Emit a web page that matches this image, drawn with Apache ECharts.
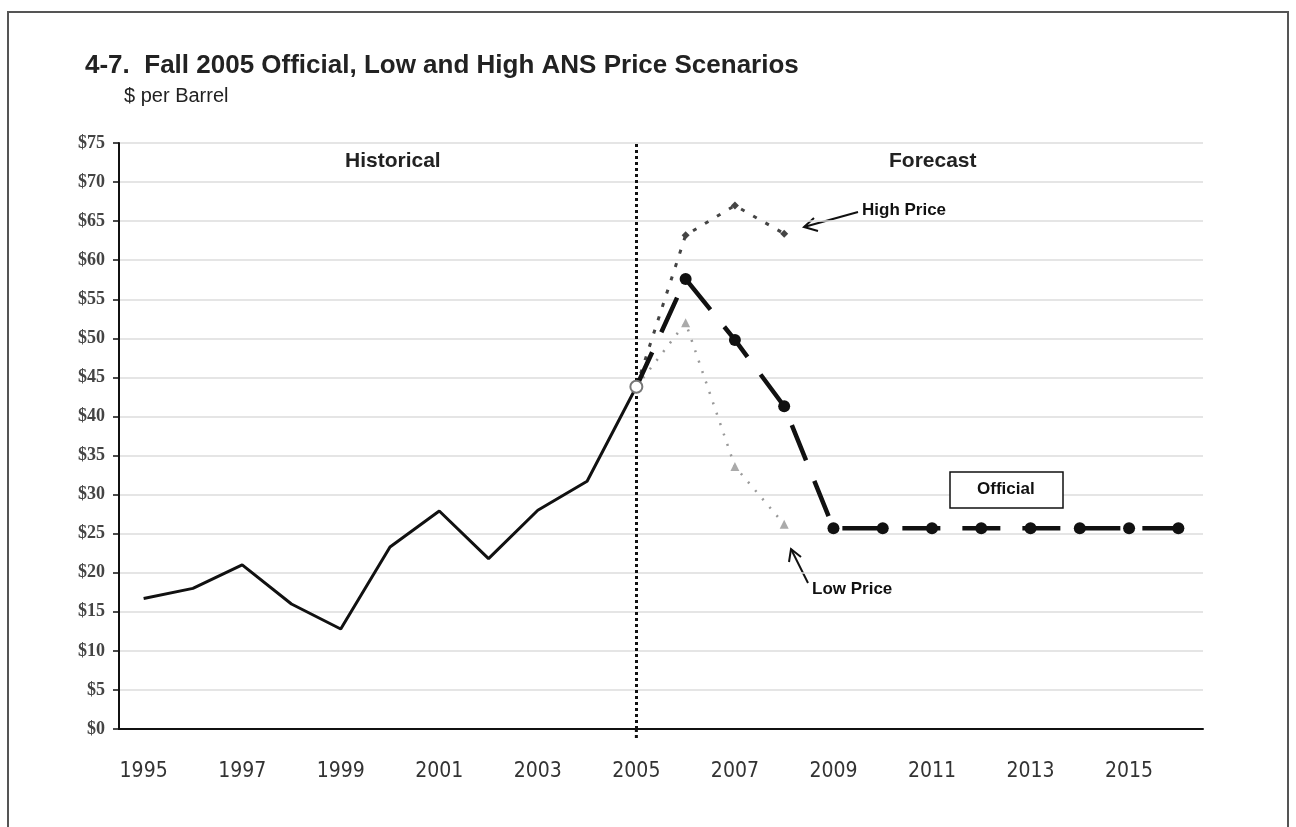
<!DOCTYPE html>
<html>
<head>
<meta charset="utf-8">
<script src="https://cdn.jsdelivr.net/npm/echarts@6/dist/echarts.min.js"></script>
<style>
  html, body { margin: 0; padding: 0; background: #fff; }
  #app { width: 1296px; height: 827px; }
</style>
</head>
<body>
<div id="app"></div>
<script>
// years on the x axis
var years = [];
for (var y = 1995; y <= 2016; y++) { years.push(String(y)); }

var historical = [16.7, 18.0, 21.0, 16.0, 12.8, 23.3, 27.9, 21.8, 28.0, 31.7, 43.8,
                  '-', '-', '-', '-', '-', '-', '-', '-', '-', '-', '-'];
var official   = ['-', '-', '-', '-', '-', '-', '-', '-', '-', '-', 43.8,
                  57.6, 49.8, 41.3, 25.7, 25.7, 25.7, 25.7, 25.7, 25.7, 25.7, 25.7];
var highPrice  = ['-', '-', '-', '-', '-', '-', '-', '-', '-', '-', 43.8,
                  63.2, 67.0, 63.4, '-', '-', '-', '-', '-', '-', '-', '-'];
var lowPrice   = ['-', '-', '-', '-', '-', '-', '-', '-', '-', '-', 43.8,
                  52.0, 33.6, 26.2, '-', '-', '-', '-', '-', '-', '-', '-'];

var myChart = echarts.init(document.getElementById('app'));

// first official point is drawn as a grey open circle
var officialData = official.map(function (v, i) {
    if (i === 10) {
        return { value: v, itemStyle: { color: '#fff', borderColor: '#777', borderWidth: 2 } };
    }
    return v;
});

var arrowStyle = { stroke: '#111', lineWidth: 2, fill: null };
var noteFont = 'bold 17px "Liberation Sans"';

var option = {
    animation: false,
    backgroundColor: '#fff',
    title: [
        {
            text: '4-7.  Fall 2005 Official, Low and High ANS Price Scenarios',
            left: 80,
            top: 48,
            textStyle: {
                fontFamily: 'Liberation Sans',
                fontWeight: 'bold',
                fontSize: 26,
                color: '#222'
            }
        },
        {
            text: '$ per Barrel',
            left: 119,
            top: 81,
            textStyle: {
                fontFamily: 'Liberation Sans',
                fontWeight: 'normal',
                fontSize: 20,
                color: '#222'
            }
        }
    ],
    grid: {
        left: 119,
        right: 93,
        top: 143,
        bottom: 98
    },
    xAxis: {
        type: 'category',
        data: years,
        boundaryGap: true,
        axisLine: { lineStyle: { color: '#111', width: 2 } },
        axisTick: { interval: 0, length: 8, lineStyle: { color: '#111', width: 1.5 } },
        axisLabel: {
            interval: 1,
            margin: 32,
            fontFamily: '"DejaVu Sans Condensed", "Liberation Sans", sans-serif',
            fontSize: 21,
            color: '#333'
        },
        splitLine: { show: false }
    },
    yAxis: {
        type: 'value',
        min: 0,
        max: 75,
        interval: 5,
        axisLine: { show: true, lineStyle: { color: '#111', width: 2 } },
        axisTick: { show: true, length: 6, lineStyle: { color: '#111', width: 1.5 } },
        axisLabel: {
            margin: 14,
            formatter: '${value}',
            fontFamily: '"Liberation Serif", serif',
            fontWeight: 'bold',
            fontSize: 18,
            color: '#444'
        },
        splitLine: { lineStyle: { color: '#dcdcdc', width: 1.5 } }
    },
    series: [
        {
            name: 'Historical',
            type: 'line',
            data: historical,
            symbol: 'none',
            lineStyle: { color: '#111', width: 3 },
            markLine: {
                silent: true,
                symbol: 'none',
                label: { show: false },
                lineStyle: { color: '#111', type: [3, 3], width: 3 },
                data: [{ xAxis: '2005' }]
            }
        },
        {
            name: 'Low Price',
            type: 'line',
            data: lowPrice,
            symbol: 'triangle',
            symbolSize: 9,
            itemStyle: { color: '#aaa' },
            lineStyle: { color: '#999', width: 2.5, type: [2, 9] }
        },
        {
            name: 'High Price',
            type: 'line',
            data: highPrice,
            symbol: 'diamond',
            symbolSize: 8,
            itemStyle: { color: '#444' },
            lineStyle: { color: '#444', width: 3, type: [4, 10] }
        },
        {
            name: 'Official',
            type: 'line',
            data: officialData,
            symbol: 'circle',
            symbolSize: 12,
            itemStyle: { color: '#111' },
            lineStyle: { color: '#111', width: 4.5, type: [38, 22] },
            z: 5
        }
    ],
    graphic: [
        // page frame
        { type: 'polyline', shape: { points: [[8, 827], [8, 12], [1288, 12], [1288, 827]] },
          style: { stroke: '#555', lineWidth: 2, fill: null } },
        // section labels
        { type: 'text', left: 345, top: 151,
          style: { text: 'Historical', font: 'bold 21px "Liberation Sans"', fill: '#222' } },
        { type: 'text', left: 889, top: 151,
          style: { text: 'Forecast', font: 'bold 21px "Liberation Sans"', fill: '#222' } },
        // High Price note
        { type: 'line', shape: { x1: 858, y1: 212, x2: 804, y2: 227 }, style: arrowStyle },
        { type: 'polyline', shape: { points: [[814, 218], [804, 227], [818, 231]] }, style: arrowStyle },
        { type: 'text', left: 862, top: 202,
          style: { text: 'High Price', font: noteFont, fill: '#111' } },
        // Low Price note
        { type: 'line', shape: { x1: 808, y1: 583, x2: 791, y2: 549 }, style: arrowStyle },
        { type: 'polyline', shape: { points: [[789, 562], [791, 549], [801, 557]] }, style: arrowStyle },
        { type: 'text', left: 812, top: 581,
          style: { text: 'Low Price', font: noteFont, fill: '#111' } },
        // Official label box
        { type: 'rect', shape: { x: 950, y: 472, width: 113, height: 36 },
          style: { fill: '#fff', stroke: '#111', lineWidth: 1.5 }, z: 10 },
        { type: 'text', left: 977, top: 481, z: 11,
          style: { text: 'Official', font: 'bold 17px "Liberation Sans"', fill: '#111' } }
    ]
};

myChart.setOption(option);

// the 2005 divider runs a little below the x axis
var x2005 = myChart.convertToPixel({ xAxisIndex: 0 }, '2005');
var yZero = myChart.convertToPixel({ yAxisIndex: 0 }, 0);
option.graphic.push({
    type: 'line',
    shape: { x1: x2005, y1: yZero, x2: x2005, y2: yZero + 12 },
    style: { stroke: '#111', lineWidth: 3, lineDash: [3, 3] }
});
myChart.setOption({ graphic: option.graphic });
</script>
</body>
</html>
